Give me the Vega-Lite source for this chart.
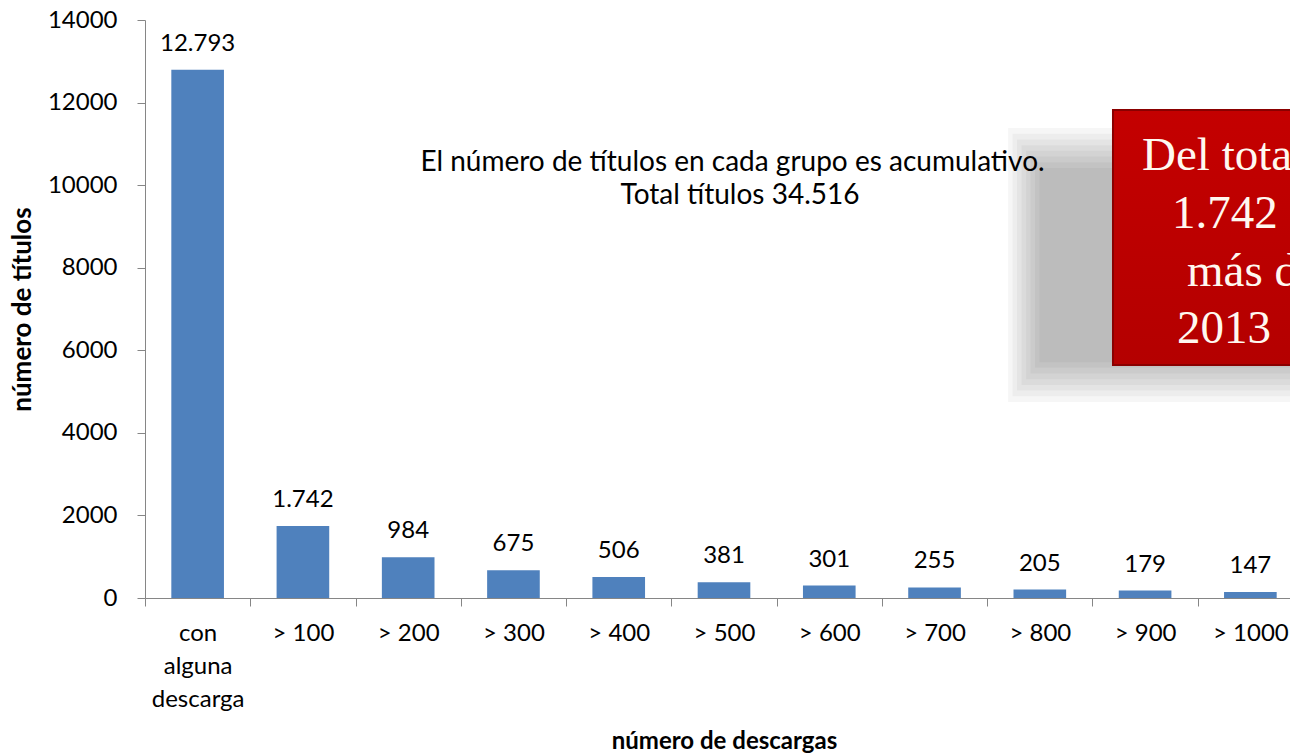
{
  "$schema": "https://vega.github.io/schema/vega-lite/v6.json",
  "width": 1145,
  "height": 578,
  "autosize": {"type": "none"},
  "padding": {"left": 145, "top": 20, "right": 0, "bottom": 158},
  "background": "white",
  "config": {
    "view": {"stroke": null},
    "font": "Lato",
    "locale": {"number": {"decimal": ",", "thousands": ".", "grouping": [3], "currency": ["", " €"]}}
  },
  "datasets": {
    "bars": [
      {"grupo": "con alguna descarga", "titulos": 12793},
      {"grupo": "> 100", "titulos": 1742},
      {"grupo": "> 200", "titulos": 984},
      {"grupo": "> 300", "titulos": 675},
      {"grupo": "> 400", "titulos": 506},
      {"grupo": "> 500", "titulos": 381},
      {"grupo": "> 600", "titulos": 301},
      {"grupo": "> 700", "titulos": 255},
      {"grupo": "> 800", "titulos": 205},
      {"grupo": "> 900", "titulos": 179},
      {"grupo": "> 1000", "titulos": 147}
    ],
    "shadow": [
      {"x0": 8.198, "x1": 11.5, "y0": 11383, "y1": 4747},
      {"x0": 8.241, "x1": 11.5, "y0": 11245, "y1": 4885},
      {"x0": 8.283, "x1": 11.5, "y0": 11107, "y1": 5023},
      {"x0": 8.326, "x1": 11.5, "y0": 10969, "y1": 5161},
      {"x0": 8.369, "x1": 11.5, "y0": 10831, "y1": 5299},
      {"x0": 8.412, "x1": 11.5, "y0": 10693, "y1": 5437},
      {"x0": 8.454, "x1": 11.5, "y0": 10555, "y1": 5575},
      {"x0": 8.497, "x1": 11.5, "y0": 10417, "y1": 5713}
    ],
    "box": [
      {"x0": 9.195, "x1": 11.5, "y0": 11820, "y1": 5644}
    ],
    "boxText": [
      {"t": "Del tota", "x": 9.471, "y": 10366},
      {"t": "1.742", "x": 9.756, "y": 8961},
      {"t": "más d", "x": 9.898, "y": 7557},
      {"t": "2013", "x": 9.803, "y": 6176}
    ],
    "note": [
      {"t": "El número de títulos en cada grupo es acumulativo.", "x": 5.581, "y": 10342},
      {"t": "Total títulos 34.516", "x": 5.652, "y": 9543}
    ]
  },
  "layer": [
    {
      "data": {"name": "bars"},
      "encoding": {
        "x": {
          "field": "grupo", "type": "nominal", "sort": null,
          "scale": {"range": [0, 1158], "paddingInner": 0.5, "paddingOuter": 0.25},
          "axis": {
            "title": "número de descargas",
            "titleFont": "Lato", "titleFontSize": 24, "titleFontWeight": "bold", "titleColor": "#000",
            "titlePadding": 18,
            "titleX": 579,
            "labelAngle": 0,
            "labelFont": "Lato", "labelFontSize": 24, "labelColor": "#000",
            "labelPadding": 15, "labelLineHeight": 33,
            "labelExpr": "datum.label == 'con alguna descarga' ? split(datum.label, ' ') : datum.label",
            "tickOffset": -52.63,
            "labelOffset": 52.63,
            "tickSize": 8, "tickColor": "#868686", "domainColor": "#868686",
            "grid": false
          }
        },
        "y": {
          "field": "titulos", "type": "quantitative",
          "scale": {"domain": [0, 14000], "nice": false},
          "axis": {
            "title": "número de títulos",
            "titleFont": "Lato", "titleFontSize": 26, "titleFontWeight": "bold", "titleColor": "#000",
            "titlePadding": 12,
            "values": [0, 2000, 4000, 6000, 8000, 10000, 12000, 14000],
            "format": "d",
            "labelFont": "Lato", "labelFontSize": 24, "labelColor": "#000",
            "labelPadding": 20,
            "tickSize": 8, "tickColor": "#868686", "domainColor": "#868686",
            "grid": false
          }
        }
      },
      "layer": [
        {"mark": {"type": "bar", "color": "#4F81BD"}},
        {
          "mark": {"type": "text", "baseline": "alphabetic", "dy": -19, "font": "Lato", "fontSize": 24, "color": "#000"},
          "encoding": {"text": {"field": "titulos", "type": "quantitative", "format": ",d"}}
        }
      ]
    },
    {
      "layer": [
        {
          "data": {"name": "shadow"},
          "mark": {"type": "rect", "color": "#000", "opacity": 0.036},
          "encoding": {
            "x": {"field": "x0", "type": "quantitative", "scale": {"domain": [0, 11], "range": [0, 1158], "nice": false, "zero": false}, "axis": null},
            "x2": {"field": "x1"},
            "y": {"field": "y0", "type": "quantitative", "scale": {"domain": [0, 14000], "nice": false}, "axis": null},
            "y2": {"field": "y1"}
          }
        },
        {
          "data": {"name": "box"},
          "mark": {
            "type": "rect",
            "stroke": "#8A0000", "strokeWidth": 2,
            "color": {"gradient": "linear", "x1": 0, "y1": 0, "x2": 0, "y2": 1, "stops": [{"offset": 0, "color": "#C40000"}, {"offset": 1, "color": "#B40000"}]}
          },
          "encoding": {
            "x": {"field": "x0", "type": "quantitative"},
            "x2": {"field": "x1"},
            "y": {"field": "y0", "type": "quantitative"},
            "y2": {"field": "y1"}
          }
        },
        {
          "data": {"name": "boxText"},
          "mark": {"type": "text", "align": "left", "baseline": "alphabetic", "font": "Liberation Serif", "fontSize": 47, "color": "#FFF8F0"},
          "encoding": {
            "x": {"field": "x", "type": "quantitative"},
            "y": {"field": "y", "type": "quantitative"},
            "text": {"field": "t"}
          }
        },
        {
          "data": {"name": "note"},
          "mark": {"type": "text", "align": "center", "baseline": "alphabetic", "font": "Lato", "fontSize": 28, "color": "#000"},
          "encoding": {
            "x": {"field": "x", "type": "quantitative"},
            "y": {"field": "y", "type": "quantitative"},
            "text": {"field": "t"}
          }
        }
      ]
    }
  ],
  "resolve": {"scale": {"x": "independent", "y": "independent"}}
}
